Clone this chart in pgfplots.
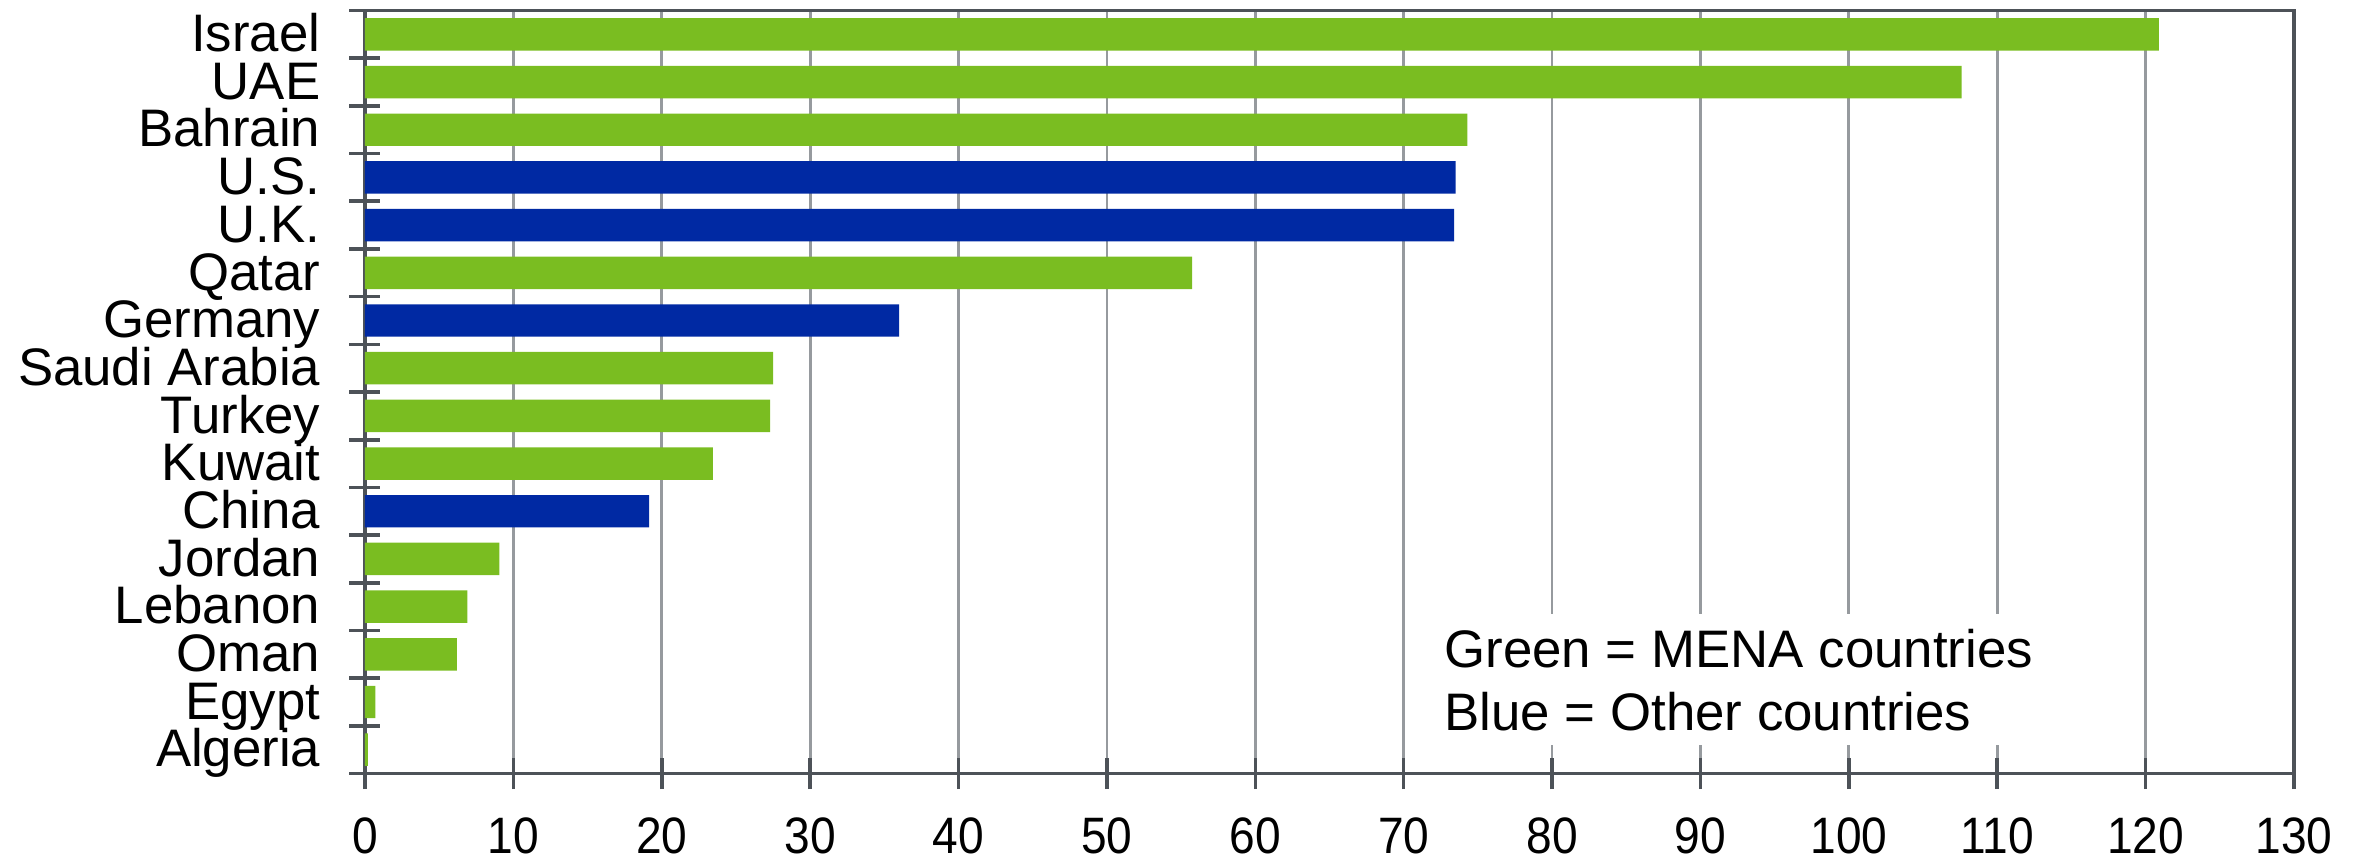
\documentclass[border=0pt]{standalone}
\usepackage{pgfplots}
\pgfplotsset{compat=1.18}
\usepackage{fontspec}
\setmainfont{Liberation Sans}
\newfontfamily\tickfont[FakeStretch=0.9]{Liberation Sans}

\definecolor{menagreen}{RGB}{122,189,33}
\definecolor{otherblue}{RGB}{0,41,163}
\definecolor{axisgray}{RGB}{77,82,88}
\definecolor{gridgray}{RGB}{150,154,158}

\begin{document}
\begin{tikzpicture}
\begin{axis}[
  name=ax,
  scale only axis,
  width=482.25pt, height=190.75pt,
  xbar, bar width=0.68, bar shift=0pt,
  xmin=0, xmax=130,
  ymin=-0.5, ymax=15.5,
  y dir=reverse,
  xtick={0,10,...,130},
  ytick={0,...,15},
  yticklabels={Israel,UAE,Bahrain,U.S.,U.K.,Qatar,Germany,Saudi Arabia,Turkey,Kuwait,China,Jordan,Lebanon,Oman,Egypt,Algeria},
  minor ytick={-0.5,0.5,...,15.5},
  xtick pos=bottom, ytick pos=left,
  tick align=center,
  major tick length=7.75pt,
  minor tick length=7.75pt,
  major y tick style={draw=none},
  every tick/.append style={axisgray, line width=0.9pt},
  xmajorgrids,
  major x grid style={gridgray, line width=0.7pt},
  axis line style={axisgray, line width=0.8pt},
  /pgf/number format/assume math mode=true,
  xticklabel style={font=\tickfont\fontsize{12.8}{15}\selectfont, inner sep=0pt, yshift=-7.1pt},
  yticklabel style={font=\fontsize{13.2}{15}\selectfont, anchor=base east, xshift=-3.75pt, yshift=-4.3pt},
]
\addplot[fill=menagreen, draw=none] coordinates {
  (120.9,0) (107.6,1) (74.3,2) (55.75,5) (27.5,7) (27.3,8)
  (23.45,9) (9.05,11) (6.9,12) (6.2,13) (0.7,14) (0.2,15)
};
\addplot[fill=otherblue, draw=none] coordinates {
  (73.5,3) (73.4,4) (36.0,6) (19.15,10)
};
\fill[white] (axis cs:71.4,12.16) rectangle (axis cs:113.6,14.91);
\node[anchor=base west, inner sep=0pt, font=\fontsize{13.2}{15}\selectfont]
  at (axis cs:72.7,13.28) {Green = MENA countries};
\node[anchor=base west, inner sep=0pt, font=\fontsize{13.2}{15}\selectfont]
  at (axis cs:72.7,14.6) {Blue = Other countries};
\end{axis}
\path (ax.south west) +(-91.25pt,-21.75pt) (ax.north east) +(18.75pt,2.3pt);
\end{tikzpicture}
\end{document}
